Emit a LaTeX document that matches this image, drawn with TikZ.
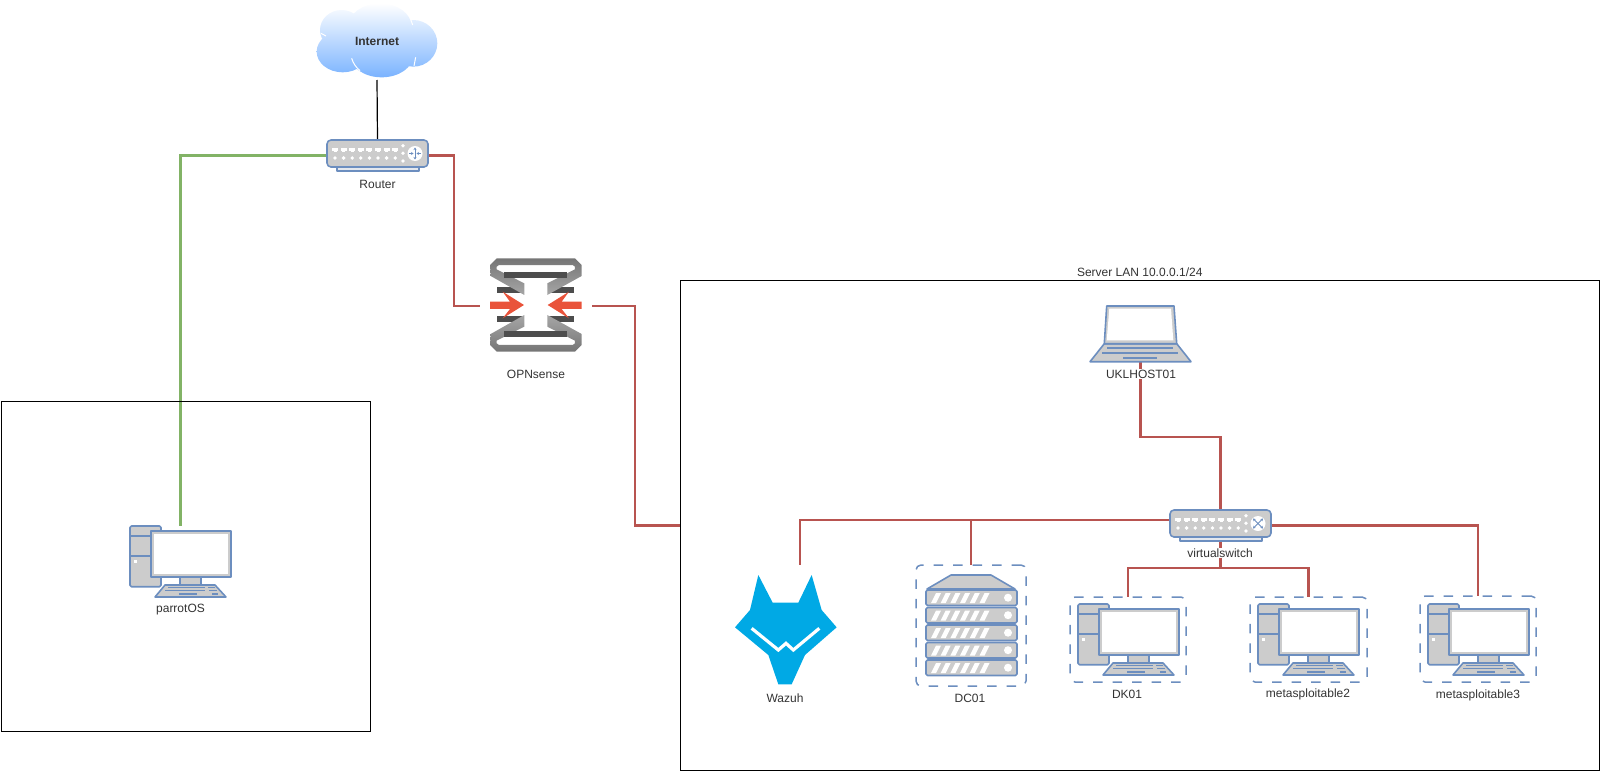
\documentclass[tikz,border=0pt]{standalone}
\usepackage{fontspec}
\setmainfont{Liberation Sans}
\usetikzlibrary{positioning, arrows.meta, backgrounds}
\definecolor{wirered}{HTML}{B85450}
\definecolor{wiregreen}{HTML}{82B366}
\definecolor{iconblue}{HTML}{6C8EBF}
\definecolor{icongray}{HTML}{CCCCCC}
\definecolor{wazuhblue}{HTML}{00A9E5}
\definecolor{fwlight}{HTML}{A6A6A6}
\definecolor{fwgray}{HTML}{757575}
\definecolor{fwdark}{HTML}{4D4D4D}
\definecolor{fworange}{HTML}{E9533A}
\definecolor{cloudblue}{HTML}{7AB3FF}
\tikzset{
every node/.style={font=\fontsize{12}{14}\selectfont, text=black!80},
hidden/.style={inner sep=0pt, outer sep=0pt},
caption/.style={fill=white, inner sep=1pt},
netbox/.style={draw, black, line width=1pt, inner sep=0pt, outer sep=0pt},
dashbox/.style={draw=iconblue, line width=1.5pt, rounded corners=5pt, dash pattern=on 9.5pt off 10pt, inner sep=0pt, outer sep=0pt},
redwire/.style={draw=wirered, line width=2.8pt},
greenwire/.style={draw=wiregreen, line width=2.8pt},
iconline/.style={draw=iconblue, line width=1.6pt, line join=round},
zoomed/.style={x=0.3333pt, y=-0.3333pt},
pics/desktop/.style={code={
    \draw[iconline, fill=icongray, rounded corners=1.5pt] (0,0) rectangle (31,60.7);
    \draw[iconline] (0,10)--(31,10);
    \draw[iconline] (0,30)--(31,30);
    \fill[white] (4.2,33.5) rectangle (7.2,36.5);
    \draw[iconline, fill=icongray] (50,50)--(50,59)--(71,59)--(71,50);
    \draw[iconline, fill=icongray] (25,71)--(35,59)--(85,59)--(96,71)--cycle;
    \draw[iconline, fill=icongray] (20.7,5) rectangle (100.7,50.7);
    \fill[white] (23.5,8.3) rectangle (98,47.5);
    \foreach \xa/\xb/\ya in {38/75/61.7, 78/85/61.7, 35/75/64.7, 79/87/64.7, 49/67/68, 82/88/68}
        \draw[iconblue, line width=1.2pt] (\xa,\ya)--(\xb,\ya);
}},
pics/rackserver/.style={code={
    \draw[iconline, fill=icongray] (1,14)--(25,0)--(65,0)--(89,14)--cycle;
    \foreach \ya in {15,32.5,50,67.5,85} {
        \draw[iconline, fill=icongray, rounded corners=1.5pt] (0,\ya) rectangle (91,\ya+15.5);
        \foreach \n in {0,...,5}
            \fill[white] (5+\n*9.7,\ya+13) -- (10+\n*9.7,\ya+13) -- (15+\n*9.7,\ya+3) -- (10+\n*9.7,\ya+3) -- cycle;
        \fill[white] (82,\ya+7.7) circle (4);
    }
}},
pics/laptop/.style={code={
    \draw[iconline, fill=icongray] (0,55.7)--(14.3,37.7)--(86.7,37.7)--(101,55.7)--cycle;
    \draw[iconline, fill=icongray] (16.7,0)--(84,0)--(86.7,37.7)--(14.3,37.7)--cycle;
    \fill[white] (19.3,2.7)--(81,2.7)--(83.3,34.3)--(16.7,34.3)--cycle;
    \draw[iconline] (17,42)--(83,42);
    \draw[iconline] (12,47)--(88,47);
    \draw[iconline] (33,52)--(67,52);
}},
pics/netbase/.style={code={
    \draw[iconline, fill=icongray!60!iconblue!30] (10,27)--(10,31)--(92,31)--(92,27);
    \draw[iconline, fill=icongray, rounded corners=4pt] (0,0) rectangle (101,27);
    \foreach \n in {0,...,7} {
        \fill[white] (5+\n*8.6,8.2) rectangle (11+\n*8.6,10.8);
        \fill[white] (6.5+\n*8.6,10.5) rectangle (9.5+\n*8.6,12);
        \fill[white] (8+\n*8.6,18) circle (1.9);
    }
    \foreach \ya in {5.7,13.3,21} \fill[white] (76,\ya) circle (1.9);
    \fill[white] (88,13.5) circle (7.5);
}},
pics/router/.style={code={
    \pic {netbase};
    \draw[iconblue, line width=.8pt, {Stealth[length=2.5pt,width=3pt]}-{Stealth[length=2.5pt,width=3pt]}] (88,7.5)--(88,19.5);
    \draw[iconblue, line width=.8pt, -{Stealth[length=2.5pt,width=3pt]}] (82,13.5)--(86.5,13.5);
    \draw[iconblue, line width=.8pt, -{Stealth[length=2.5pt,width=3pt]}] (94,13.5)--(89.5,13.5);
}},
pics/vswitch/.style={code={
    \pic {netbase};
    \draw[iconblue, line width=.8pt, {Stealth[length=2.5pt,width=3pt]}-{Stealth[length=2.5pt,width=3pt]}] (83,8.5)--(93,18.5);
    \draw[iconblue, line width=.8pt, {Stealth[length=2.5pt,width=3pt]}-{Stealth[length=2.5pt,width=3pt]}] (93,8.5)--(83,18.5);
}},
pics/firewall/.style={code={
    \begin{scope}[zoomed]
    \fill[fwdark] (112,142) rectangle (190,160);
    \fill[fwdark] (265,142) rectangle (343,160);
    \fill[fwdark] (112,228) rectangle (190,246);
    \fill[fwdark] (265,228) rectangle (343,246);
    \shade[top color=fwgray, bottom color=fwlight] (193,130)--(193,165)--(92,108)--(90,75)--(110,55)--(345,55)--(365,75)--(365,108)--(262,165)--(262,130)--(345,88)--(345,80)--(338,75)--(117,75)--(110,80)--(110,88)--cycle;
    \shade[top color=fwlight, bottom color=fwgray] (193,260)--(193,225)--(92,282)--(90,315)--(110,335)--(345,335)--(365,315)--(365,282)--(262,225)--(262,260)--(345,302)--(345,310)--(338,315)--(117,315)--(110,310)--(110,302)--cycle;
    \fill[fwdark] (133,97) rectangle (322,115);
    \fill[fwdark] (133,272) rectangle (322,290);
    \fill[fworange] (90,185)--(150,185)--(128,155)--(192,195)--(128,235)--(150,207)--(90,207)--cycle;
    \fill[fworange] (365,185)--(305,185)--(327,155)--(263,195)--(327,235)--(305,207)--(365,207)--cycle;
    \end{scope}
}},
pics/wazuh/.style={code={
    \begin{scope}[zoomed]
    \fill[wazuhblue] (175,105)--(218,188)--(295,188)--(335,105)--(365,210)--(410,262)--(315,345)--(275,433)--(235,433)--(205,345)--(105,262)--(150,210)--cycle;
    \draw[white, line width=3.2pt] (155,265)--(235,330)--(258,310)--(280,330)--(358,265);
    \end{scope}
}},
pics/cloud/.style={code={
    \begin{scope}[zoomed]
    \shade[top color=white, bottom color=cloudblue]
        (270,80) ellipse (95 and 70) (155,90) ellipse (65 and 60) (158,155) ellipse (78 and 62)
        (275,165) ellipse (95 and 67) (370,130) ellipse (72 and 70);
    \draw[white, line width=1pt] (93,100)--(108,108);
    \draw[white, line width=1pt] (185,175) to[bend right=15] (210,212);
    \draw[white, line width=1pt] (377,172)--(372,198);
    \draw[white, line width=1pt] (360,52)--(368,75);
    \end{scope}
}},
}

\begin{document}
\begin{tikzpicture}[x=1pt, y=-1pt]
    \useasboundingbox (0,0) rectangle (1601,771);
    \pic at (290,0) {cloud};
    \pic at (327,140) {router};
    \pic at (460,240) {firewall};
    \pic at (130,526) {desktop};
    \pic at (1090,306) {laptop};
    \pic at (1170,510) {vswitch};
    \pic at (700,540) {wazuh};
    \pic at (926,575) {rackserver};
    \pic at (1078,604) {desktop};
    \pic at (1258,604) {desktop};
    \pic at (1428,604) {desktop};

    \node[hidden, minimum width=120pt, minimum height=77pt] (internet) at (377,41.5) {\textbf{Internet}};
    \node[hidden, minimum width=101pt, minimum height=31pt] (router) at (377.5,155.5) {};
    \node[hidden, minimum width=112pt, minimum height=94pt] (opnsense) at (536,306) {};
    \node[hidden, minimum width=101pt, minimum height=71pt] (parrotos) at (180.5,561.5) {};
    \node[hidden, minimum width=101pt, minimum height=56pt] (ukl) at (1140.5,334) {};
    \node[hidden, minimum width=101pt, minimum height=31pt] (vswitch) at (1220.5,525.5) {};
    \node[dashbox, minimum width=110pt, minimum height=121pt] (dc01) at (971,625.5) {};
    \node[dashbox, minimum width=116pt, minimum height=85pt] (dk01) at (1128,639.5) {};
    \node[dashbox, minimum width=117pt, minimum height=85pt] (meta2) at (1308.5,639.5) {};
    \node[dashbox, minimum width=116pt, minimum height=86pt] (meta3) at (1478,639) {};
    \node[netbox, minimum width=369pt, minimum height=329.5pt] (parrotlan) at (185.5,566.25) {};
    \node[netbox, minimum width=919.5pt, minimum height=489.5pt] (serverlan) at (1139.75,525.25) {};
    \coordinate (wazuhtop) at (800,565);

    \node[caption] (routerlabel) at (377.5,184) {Router};
    \node[caption] (opnlabel) at (536,374) {OPNsense};
    \node[caption] (parrotlabel) at (180.5,610) {parrotOS};
    \node[caption] (ukllabel) at (1141,374) {UKLHOST01};
    \node[caption] (vswitchlabel) at (1220,553) {virtualswitch};
    \node[caption] (wazuhlabel) at (785,698) {Wazuh};
    \node[caption] (dc01label) at (970,698) {DC01};
    \node[caption] (dk01label) at (1127,694) {DK01};
    \node[caption] (meta2label) at (1308,694) {metasploitable2};
    \node[caption] (meta3label) at (1478,695) {metasploitable3};
    \node[above=4pt of serverlan.north, hidden] (lanlabel) {Server LAN 10.0.0.1/24};

    \begin{scope}[on background layer]
        \draw[black, line width=1.2pt] (internet.south)--(router.north);
        \draw[greenwire] (router.west) -| (parrotos.north);
        \draw[redwire] (router.east) -| (454,306)--(opnsense.west);
        \draw[redwire] (opnsense.east) -| (635,525.25)--(serverlan.west);
        \draw[redwire] (ukl.south)--++(0,75) -| (vswitch.north);
        \draw[redwire] ([yshift=5.5pt]vswitch.west) -| (wazuhtop);
        \draw[redwire] ([yshift=5.5pt]vswitch.west) -| (dc01.north);
        \draw[redwire] (vswitch.east) -| (meta3.north);
        \draw[redwire] (vswitch.south)--++(0,27) -| (dk01.north);
        \draw[redwire] (vswitch.south)--++(0,27) -| (meta2.north);
    \end{scope}
\end{tikzpicture}
\end{document}
